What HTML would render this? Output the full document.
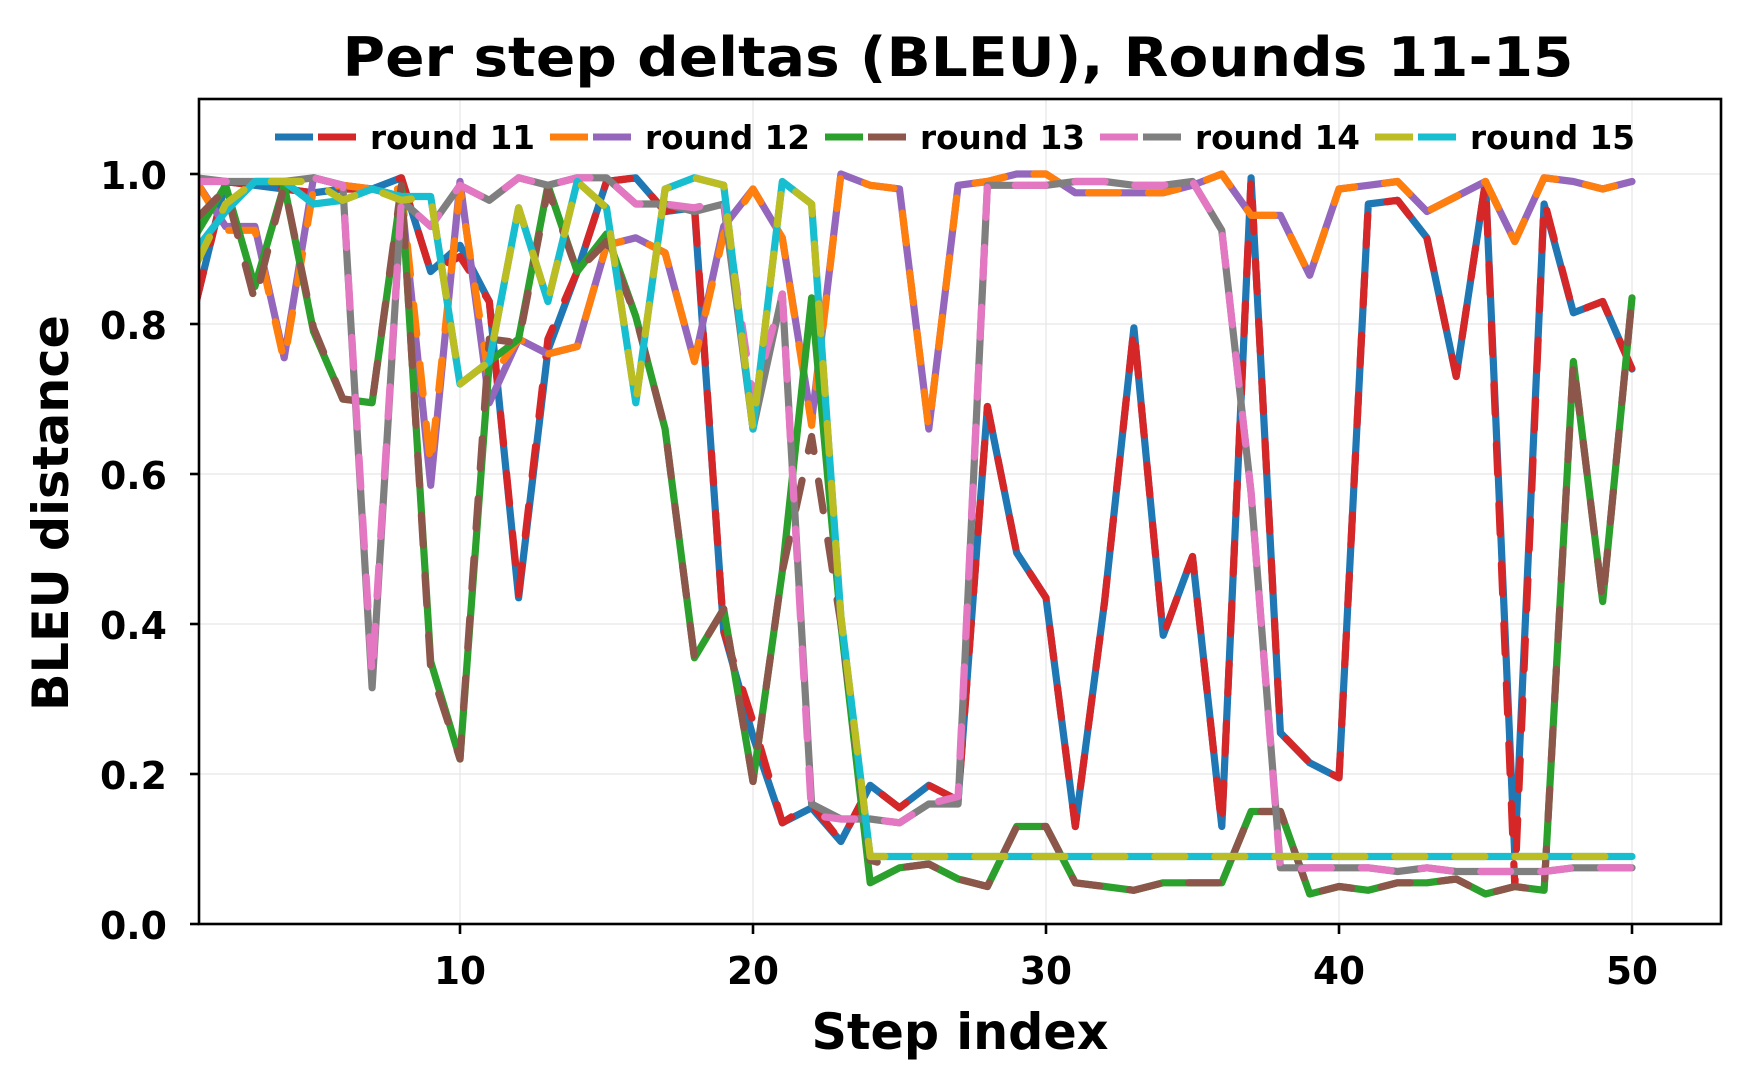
<!DOCTYPE html><html><head><style>body{margin:0;background:#fff}svg{display:block}</style></head><body>
<svg id="s" width="1750" height="1088" xmlns="http://www.w3.org/2000/svg" font-family="DejaVu Sans, Liberation Sans, sans-serif" font-weight="bold">
<rect width="1750" height="1088" fill="#fff"/>
<g id="grid" stroke="#e6e6e6" stroke-width="1.2"></g>
<g id="lines" fill="none" stroke-width="7.2" stroke-linejoin="round" stroke-linecap="round" clip-path="url(#c)"></g>
<defs><clipPath id="c"><rect x="199" y="99" width="1522" height="825"/></clipPath></defs>
<rect x="199" y="99" width="1522" height="825" fill="none" stroke="#000" stroke-width="2.6"/>
<g id="ticks" stroke="#000" stroke-width="2.6"></g>
<g id="tl" font-size="38" fill="#000"></g>
<text x="958" y="76" text-anchor="middle" font-size="54" textLength="1231" lengthAdjust="spacingAndGlyphs">Per step deltas (BLEU), Rounds 11-15</text>
<text x="960" y="1049" text-anchor="middle" font-size="50" textLength="297" lengthAdjust="spacingAndGlyphs">Step index</text>
<text transform="translate(68,513) rotate(-90)" text-anchor="middle" font-size="50" textLength="396" lengthAdjust="spacingAndGlyphs">BLEU distance</text>
<g id="leg" font-size="33"></g>
</svg>
<script>
const X=v=>460+(v-10)*29.3, Y=v=>924-750*v;
const ns="http://www.w3.org/2000/svg";
function el(p,t,a,txt){const e=document.createElementNS(ns,t);for(const k in a)e.setAttribute(k,a[k]);if(txt!=null)e.textContent=txt;document.getElementById(p).appendChild(e);return e;}
for(let v=0;v<=1.0001;v+=0.2){el('grid','line',{x1:199,x2:1721,y1:Y(v),y2:Y(v)});el('ticks','line',{x1:190,x2:199,y1:Y(v),y2:Y(v)});el('tl','text',{x:167,y:Y(v)+15,'text-anchor':'end',textLength:67,lengthAdjust:'spacingAndGlyphs'},v.toFixed(1));}
for(let v=10;v<=50;v+=10){el('grid','line',{x1:X(v),x2:X(v),y1:99,y2:924});el('ticks','line',{x1:X(v),x2:X(v),y1:924,y2:934});el('tl','text',{x:X(v),y:984,'text-anchor':'middle',textLength:52,lengthAdjust:'spacingAndGlyphs'},v);}
const A=s=>s.split(' ').map(Number);
const blue=A("0.83 0.99 0.985 0.98 0.975 0.98 0.98 0.995 0.87 0.905 0.83 0.435 0.765 0.87 0.99 0.995 0.95 0.955 0.39 0.25 0.135 0.155 0.11 0.185 0.155 0.185 0.165 0.69 0.495 0.435 0.13 0.43 0.795 0.385 0.49 0.13 0.995 0.255 0.215 0.195 0.96 0.965 0.915 0.73 0.99 0.09 0.96 0.815 0.83 0.74");
const red=A("0.83 0.99 0.985 0.98 0.975 0.98 0.98 0.995 0.87 0.89 0.83 0.44 0.78 0.87 0.99 0.995 0.95 0.96 0.39 0.27 0.135 0.16 0.11 0.185 0.155 0.185 0.165 0.69 0.495 0.435 0.13 0.43 0.795 0.385 0.49 0.13 0.995 0.255 0.215 0.195 0.96 0.965 0.915 0.73 0.99 0.05 0.965 0.815 0.83 0.74");
const purple=A("0.99 0.93 0.93 0.755 0.995 0.985 0.98 0.97 0.585 0.99 0.695 0.78 0.76 0.77 0.905 0.915 0.895 0.75 0.93 0.98 0.915 0.67 1.0 0.985 0.98 0.66 0.985 0.99 1.0 1.0 0.975 0.975 0.975 0.975 0.985 1.0 0.945 0.945 0.865 0.98 0.985 0.99 0.95 0.97 0.99 0.91 0.995 0.99 0.98 0.99");
const orange=A("0.99 0.925 0.925 0.75 0.98 0.985 0.98 0.98 0.61 0.98 0.725 0.78 0.76 0.77 0.905 0.915 0.895 0.75 0.92 0.98 0.915 0.665 1.0 0.985 0.98 0.66 0.985 0.99 1.0 1.0 0.975 0.975 0.975 0.975 0.985 1.0 0.945 0.945 0.865 0.98 0.985 0.99 0.95 0.97 0.99 0.91 0.995 0.99 0.98 0.99");
const green=A("0.92 0.985 0.85 0.985 0.79 0.7 0.695 0.98 0.35 0.22 0.75 0.78 0.985 0.87 0.92 0.81 0.66 0.355 0.42 0.19 0.47 0.835 0.4 0.055 0.075 0.08 0.06 0.05 0.13 0.13 0.055 0.05 0.045 0.055 0.055 0.055 0.15 0.15 0.04 0.05 0.045 0.055 0.055 0.06 0.04 0.05 0.045 0.75 0.43 0.835");
const brown=A("0.94 0.98 0.83 0.985 0.795 0.7 0.695 0.985 0.34 0.22 0.78 0.775 0.98 0.87 0.91 0.81 0.66 0.355 0.42 0.19 0.47 0.65 0.4 0.085 0.075 0.08 0.06 0.05 0.13 0.13 0.055 0.05 0.045 0.055 0.055 0.055 0.15 0.15 0.04 0.05 0.045 0.055 0.055 0.06 0.04 0.05 0.045 0.75 0.43 0.835");
const gray=A("0.995 0.99 0.99 0.99 0.995 0.985 0.315 0.965 0.93 0.985 0.965 0.995 0.985 0.995 0.995 0.96 0.96 0.95 0.96 0.66 0.84 0.16 0.14 0.14 0.135 0.16 0.16 0.985 0.985 0.985 0.99 0.99 0.985 0.985 0.99 0.925 0.575 0.075 0.075 0.075 0.075 0.07 0.075 0.07 0.07 0.07 0.07 0.075 0.075 0.075");
const pink=A("0.99 0.99 0.99 0.99 0.995 0.985 0.33 0.965 0.93 0.985 0.965 0.995 0.985 0.995 0.995 0.96 0.96 0.955 0.965 0.7 0.84 0.145 0.14 0.14 0.135 0.16 0.17 0.985 0.985 0.985 0.99 0.99 0.985 0.985 0.99 0.925 0.575 0.07 0.075 0.075 0.075 0.07 0.075 0.07 0.07 0.07 0.07 0.075 0.075 0.075");
let yel=A("0.88 0.96 0.99 0.99 0.99 0.965 0.98 0.965 0.97 0.72 0.75 0.955 0.83 0.99 0.955 0.695 0.98 0.995 0.985 0.66 0.99 0.96 0.41"),cy=A("0.9 0.95 0.99 0.99 0.96 0.965 0.98 0.97 0.97 0.72 0.75 0.955 0.83 0.99 0.955 0.695 0.98 0.995 0.985 0.66 0.99 0.96 0.41");
for(let i=23;i<50;i++){yel.push(0.09);cy.push(0.09);}
function draw(d,c,dash,off){const p=d.map((v,i)=>X(i+1).toFixed(1)+','+Y(v).toFixed(1)).join(' ');const a={points:p,stroke:c};if(dash){a['stroke-dasharray']=dash;a['stroke-dashoffset']=off;}el('lines','polyline',a);}
draw(blue,'#1f77b4');draw(red,'#d62728','30 30',0);
draw(purple,'#9467bd');draw(orange,'#ff7f0e','30 30',0);
draw(green,'#2ca02c');draw(brown,'#8c564b','30 30',0);
draw(gray,'#7f7f7f');draw(pink,'#e377c2','30 30',0);
draw(cy,'#17becf');draw(yel,'#bcbd22','30 30',0);
const L=[['#1f77b4','#d62728','round 11'],['#ff7f0e','#9467bd','round 12'],['#2ca02c','#8c564b','round 13'],['#e377c2','#7f7f7f','round 14'],['#bcbd22','#17becf','round 15']];
L.forEach((l,i)=>{const x0=275+i*275,y=137;el('leg','line',{x1:x0,x2:x0+38,y1:y,y2:y,stroke:l[0],'stroke-width':7});el('leg','line',{x1:x0+43,x2:x0+81,y1:y,y2:y,stroke:l[1],'stroke-width':7});el('leg','text',{x:x0+95,y:y+12,textLength:165,lengthAdjust:'spacingAndGlyphs'},l[2]);});
</script></body></html>
